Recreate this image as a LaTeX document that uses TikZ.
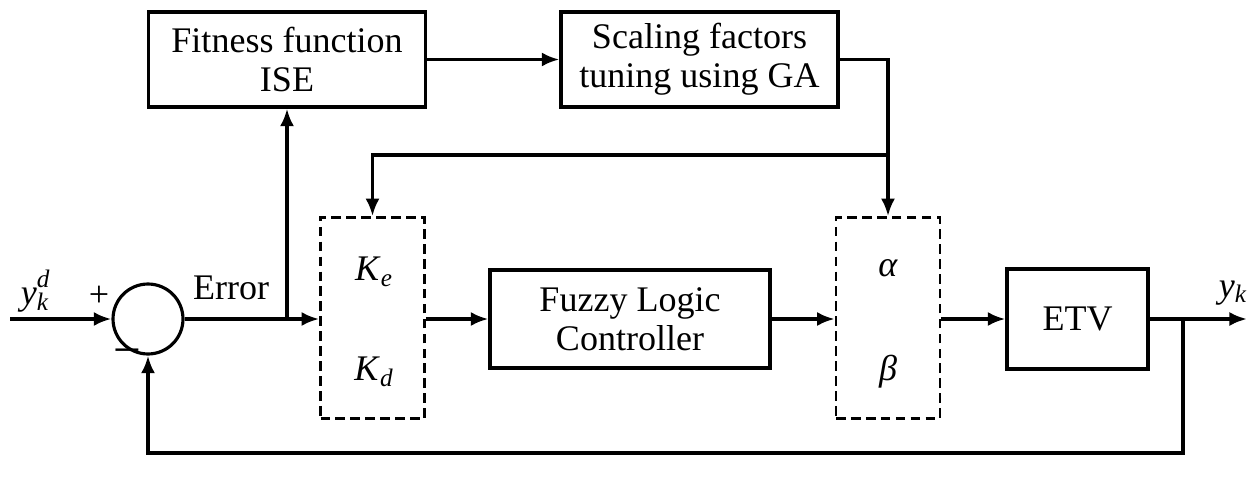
\documentclass[tikz,border=0pt]{standalone}
\usepackage{fontspec}
\setmainfont{Liberation Serif}
\usetikzlibrary{arrows.meta}
\begin{document}
\begin{tikzpicture}[x=0.02cm,y=-0.02cm,
  lbl/.style={font=\fontsize{20.5}{22}\selectfont},
  blk/.style={draw, line width=1.8pt, align=center, inner sep=0pt, lbl},
  dbox/.style={draw, line width=1.5pt, dash pattern=on 5.5pt off 3pt, inner sep=0pt, minimum width=2.08cm, minimum height=4.02cm},
  arr/.style={line width=2pt, -{Latex[length=10pt,width=8pt]}},
  ln/.style={line width=2pt}]
\useasboundingbox (0,0) rectangle (1250,483);
\node[blk, minimum width=5.54cm, minimum height=1.9cm] (fit) at (287,59.5) {Fitness function\\ISE};
\node[blk, minimum width=5.54cm, minimum height=1.9cm] (sca) at (699.5,59.5) {Scaling factors\\tuning using GA};
\node[dbox] (kbox) at (372.5,318) {};
\node[dbox] (ab) at (888,318) {};
\node[blk, minimum width=5.6cm, minimum height=1.96cm] (flc) at (630,319) {Fuzzy Logic\\Controller};
\node[blk, minimum width=2.82cm, minimum height=2.0cm] (etv) at (1077.5,319) {ETV};
\node[draw, circle, line width=1.8pt, minimum size=1.4cm, inner sep=0pt] (sum) at (148,319) {};
\node[lbl] (ke) at (374,272) {\textit{K}\textsubscript{\textit{e}}};
\node[lbl] (kd) at (374,372) {\textit{K}\textsubscript{\textit{d}}};
\node[lbl] (al) at (888,268) {\textit{α}};
\node[lbl] (be) at (888,372) {\textit{β}};
\node[lbl] (err) at (231,288) {Error};
\node[lbl] (plus) at (99,296) {+};
\node[font=\fontsize{28}{30}\selectfont] (minus) at (127,358) {−};
\node[lbl] (yd) at (35,291) {\textit{y}\rlap{\raisebox{0.25ex}{\textsuperscript{\textit{d}}}}\textsubscript{\textit{k}}};
\node[lbl] (yk) at (1233,293) {\textit{y}\textsubscript{\textit{k}}};
\coordinate (in) at (10,319);
\coordinate (out) at (1247,319);
\coordinate (j1) at (287,319);
\coordinate (j2) at (888,155);
\coordinate (j3) at (1183,319);
\draw[arr] (in) -- (sum.west);
\draw[arr] (sum.east) -- (kbox.west |- sum.east);
\draw[arr] (j1) -- (fit.south);
\draw[arr] (fit.east) -- (sca.west);
\draw[arr] (sca.east) -| (ab.north);
\draw[arr] (j2) -| (kbox.north);
\draw[arr] (kbox.east |- flc.west) -- (flc.west);
\draw[arr] (flc.east) -- (ab.west |- flc.east);
\draw[arr] (ab.east |- etv.west) -- (etv.west);
\draw[arr] (etv.east) -- (out);
\draw[arr] (j3) -- ++(0,134) -| (sum.south);
\end{tikzpicture}
\end{document}
